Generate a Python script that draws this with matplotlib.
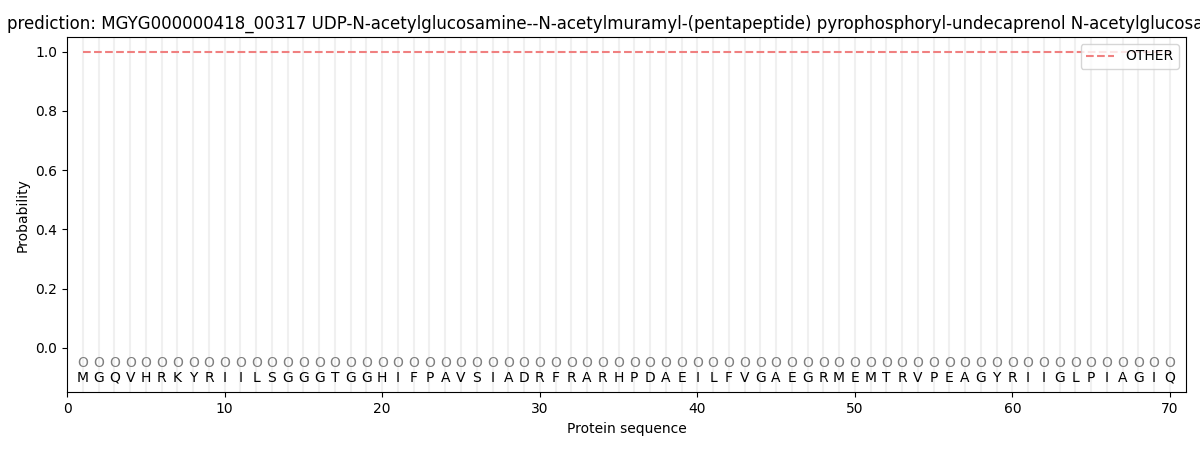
import matplotlib
matplotlib.use("Agg")
import matplotlib.pyplot as plt

# protein sequence and per-residue probability
sequence = "MGQVHRKYRIILSGGGTGGHIFPAVSIADRFRARHPDAEILFVGAEGRMEMTRVPEAGYRIIGLPIAGIQ"
positions = list(range(1, len(sequence) + 1))
prob_other = [1.0] * len(sequence)

title = ("prediction: MGYG000000418_00317 UDP-N-acetylglucosamine--N-acetylmuramyl-"
         "(pentapeptide) pyrophosphoryl-undecaprenol N-acetylglucosamine")

fig, ax = plt.subplots(figsize=(12, 4.5))
fig.subplots_adjust(left=0.056, right=0.988, top=0.918, bottom=0.128)

for p in positions:
    ax.axvline(p, color="#f0f0f0", linewidth=1.5, zorder=0)

ax.plot(positions, prob_other, linestyle="--", color="#f08080", linewidth=1.5,
        label="OTHER")
for p, aa in zip(positions, sequence):
    ax.text(p, -0.05, "O", ha="center", va="center", fontsize=10, color="gray")
    ax.text(p, -0.1, aa, ha="center", va="center", fontsize=10)

ax.set_xlim(0, 71)
ax.set_ylim(-0.15, 1.05)
ax.set_xlabel("Protein sequence")
ax.set_ylabel("Probability")
ax.set_title(title)
ax.legend(loc="upper right")

fig.savefig("out.png", dpi=100)
